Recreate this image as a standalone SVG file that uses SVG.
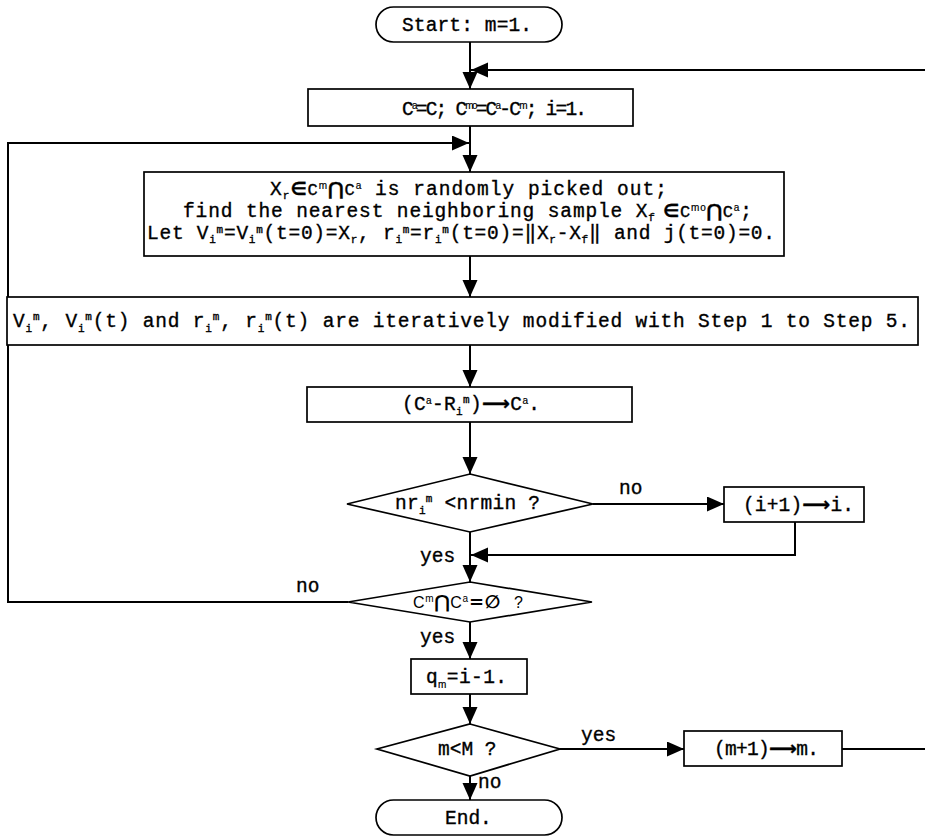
<svg xmlns="http://www.w3.org/2000/svg" width="925" height="836" viewBox="0 0 925 836">
<style>
.sh{fill:#fff;stroke:#000;stroke-width:1.7}
.ln{fill:none;stroke:#000;stroke-width:2}
.t{font-family:"Liberation Mono","Courier New",monospace;font-size:19.5px;fill:#000;stroke:#000;stroke-width:0.35}
.s{font-size:11px}
.ss{font-family:"Liberation Sans",Arial,sans-serif;font-size:10px;stroke-width:0.2}
.sans{font-family:"Liberation Sans",Arial,sans-serif}
.sym{font-family:"DejaVu Sans","Liberation Sans",sans-serif;font-weight:bold}
</style>
<defs>
<marker id="ah" markerUnits="userSpaceOnUse" markerWidth="18" markerHeight="16" refX="17" refY="7.5" orient="auto">
<path d="M0,0 L17,7.5 L0,15 Z" fill="#000"/>
</marker>
</defs>
<g id="connectors">
<line class="ln" x1="470" y1="42" x2="470" y2="89" marker-end="url(#ah)"/>
<path class="ln" d="M925,70 H471" marker-end="url(#ah)"/>
<line class="ln" x1="470" y1="126" x2="470" y2="172" marker-end="url(#ah)"/>
<path class="ln" d="M348,602 H8 V143 H469" marker-end="url(#ah)"/>
<line class="ln" x1="470" y1="256" x2="470" y2="297" marker-end="url(#ah)"/>
<line class="ln" x1="470" y1="345" x2="470" y2="387" marker-end="url(#ah)"/>
<line class="ln" x1="470" y1="422" x2="470" y2="474" marker-end="url(#ah)"/>
<line class="ln" x1="593" y1="504" x2="724" y2="504" marker-end="url(#ah)"/>
<path class="ln" d="M795,522 V555 H471" marker-end="url(#ah)"/>
<line class="ln" x1="470" y1="532" x2="470" y2="582" marker-end="url(#ah)"/>
<line class="ln" x1="470" y1="622" x2="470" y2="659" marker-end="url(#ah)"/>
<line class="ln" x1="470" y1="694" x2="470" y2="724" marker-end="url(#ah)"/>
<line class="ln" x1="560" y1="749" x2="684" y2="749" marker-end="url(#ah)"/>
<line class="ln" x1="842" y1="749" x2="925" y2="749"/>
<line class="ln" x1="470" y1="776" x2="470" y2="800" marker-end="url(#ah)"/>
<text class="t" x="619" y="494">no</text>
<text class="t" x="420" y="562">yes</text>
<text class="t" x="296" y="592">no</text>
<text class="t" x="420" y="643">yes</text>
<text class="t" x="581" y="741">yes</text>
<text class="t" x="478" y="788">no</text>
</g>
<g id="start">
<rect class="sh" x="376" y="7" width="186" height="35" rx="17.5"/>
<text class="t" x="402" y="31" textLength="130">Start: m=1.</text>
</g>
<g id="init">
<rect class="sh" x="308" y="89" width="325" height="37"/>
<text class="t" x="402" y="115" font-size="17" textLength="185">C<tspan class="ss" dy="-6">a</tspan><tspan dy="6">=C; C</tspan><tspan class="ss" dy="-6">mo</tspan><tspan dy="6">=C</tspan><tspan class="ss" dy="-6">a</tspan><tspan dy="6">-C</tspan><tspan class="ss" dy="-6">m</tspan><tspan dy="6">; i=1.</tspan></text>
</g>
<g id="pick">
<rect class="sh" x="144" y="172" width="640" height="84"/>
<text class="t" x="270" y="195" font-size="20.5" textLength="397">X<tspan class="s" dy="4">r</tspan><tspan class="sym" font-size="18" dy="-4">∈</tspan><tspan font-size="17">C</tspan><tspan class="ss" dy="-6">m</tspan><tspan class="sym" font-size="18" dy="6">⋂</tspan><tspan font-size="17">C</tspan><tspan class="ss" dy="-6">a</tspan><tspan dy="6"> is randomly picked out;</tspan></text>
<text class="t" x="183" y="217" font-size="20.5" textLength="569">find the nearest neighboring sample X<tspan class="s" dy="4">f</tspan><tspan class="sym" font-size="18" dy="-4"> ∈</tspan><tspan font-size="17">C</tspan><tspan class="ss" dy="-6">mo</tspan><tspan class="sym" font-size="18" dy="6">⋂</tspan><tspan font-size="17">C</tspan><tspan class="ss" dy="-6">a</tspan><tspan dy="6">;</tspan></text>
<text class="t" x="147" y="239" font-size="20.5" textLength="628">Let V<tspan class="s" dy="4">i</tspan><tspan class="s" dy="-10">m</tspan><tspan dy="6">=V</tspan><tspan class="s" dy="4">i</tspan><tspan class="s" dy="-10">m</tspan><tspan dy="6">(t=0)=X</tspan><tspan class="s" dy="4">r</tspan><tspan dy="-4">, r</tspan><tspan class="s" dy="4">i</tspan><tspan class="s" dy="-10">m</tspan><tspan dy="6">=r</tspan><tspan class="s" dy="4">i</tspan><tspan class="s" dy="-10">m</tspan><tspan dy="6">(t=0)=‖X</tspan><tspan class="s" dy="4">r</tspan><tspan dy="-4">-X</tspan><tspan class="s" dy="4">f</tspan><tspan dy="-4">‖ and j(t=0)=0.</tspan></text>
</g>
<g id="iterate">
<rect class="sh" x="7" y="297" width="911" height="48"/>
<text class="t" x="13" y="327" font-size="20.5" textLength="897">V<tspan class="s" dy="5">i</tspan><tspan class="s" dy="-12">m</tspan><tspan dy="7">, V</tspan><tspan class="s" dy="5">i</tspan><tspan class="s" dy="-12">m</tspan><tspan dy="7">(t) and r</tspan><tspan class="s" dy="5">i</tspan><tspan class="s" dy="-12">m</tspan><tspan dy="7">, r</tspan><tspan class="s" dy="5">i</tspan><tspan class="s" dy="-12">m</tspan><tspan dy="7">(t) are iteratively modified with Step 1 to Step 5.</tspan></text>
</g>
<g id="remove">
<rect class="sh" x="307" y="387" width="325" height="35"/>
<text class="t" x="402" y="410" textLength="138">(C<tspan class="ss" dy="-6">a</tspan><tspan dy="6">-R</tspan><tspan class="s" dy="5">i</tspan><tspan class="s" dy="-12">m</tspan><tspan dy="7">)</tspan><tspan class="sym">⟶</tspan>C<tspan class="ss" dy="-6">a</tspan><tspan dy="6">.</tspan></text>
</g>
<g id="check-nr">
<polygon class="sh" points="470,474 593,504 470,532 347,504"/>
<text class="t" x="395" y="509" textLength="145">nr<tspan class="s" dy="5">i</tspan><tspan class="s" dy="-12">m</tspan><tspan dy="7"> &lt;nrmin ?</tspan></text>
</g>
<g id="incr-i">
<rect class="sh" x="724" y="487" width="140" height="35"/>
<text class="t" x="743" y="511" textLength="111">(i+1)<tspan class="sym">⟶</tspan>i.</text>
</g>
<g id="check-empty">
<polygon class="sh" points="470,582 592,602 470,622 348,602"/>
<text class="sans" x="413" y="608" font-size="16" textLength="110">C<tspan font-size="10" dy="-6">m</tspan><tspan class="sym" font-size="18" dy="6">⋂</tspan>C<tspan font-size="10" dy="-6">a</tspan><tspan class="sym" font-size="18" dy="6">=∅</tspan><tspan dx="8"> ?</tspan></text>
</g>
<g id="qm">
<rect class="sh" x="411" y="659" width="116" height="35"/>
<text class="t" x="426" y="683" textLength="81">q<tspan class="ss" dy="5">m</tspan><tspan dy="-5">=i-1.</tspan></text>
</g>
<g id="check-m">
<polygon class="sh" points="470,724 560,749 470,776 377,749"/>
<text class="t" x="438" y="755">m&lt;M ?</text>
</g>
<g id="incr-m">
<rect class="sh" x="684" y="731" width="158" height="35"/>
<text class="t" x="714" y="755" textLength="105">(m+1)<tspan class="sym">⟶</tspan>m.</text>
</g>
<g id="end">
<rect class="sh" x="376" y="800" width="186" height="35" rx="17.5"/>
<text class="t" x="445" y="824">End.</text>
</g>
</svg>
